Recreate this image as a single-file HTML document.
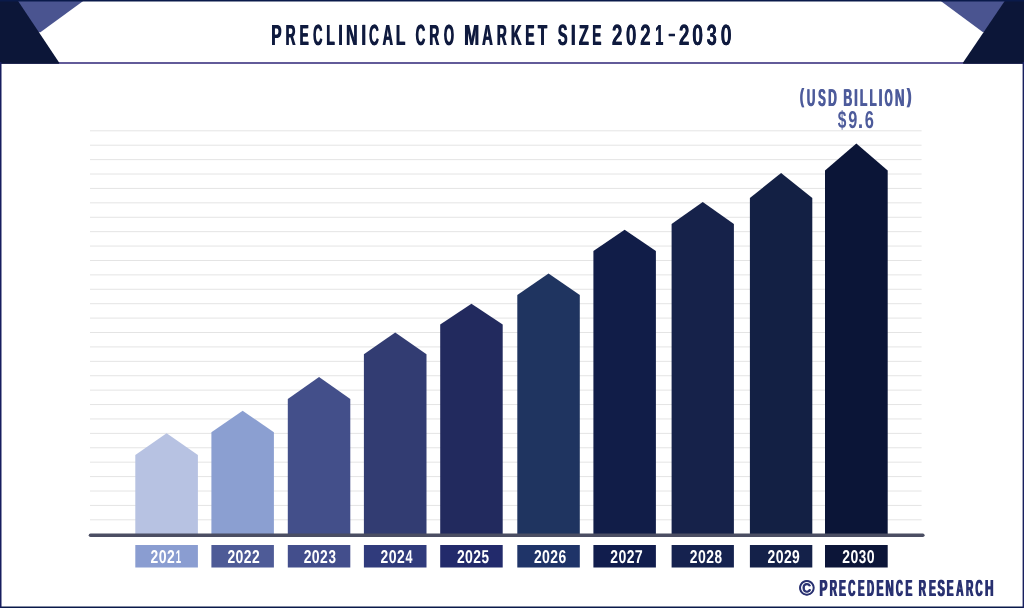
<!DOCTYPE html>
<html><head><meta charset="utf-8"><style>
html,body{margin:0;padding:0;background:#fff;}
body{width:1024px;height:608px;overflow:hidden;position:relative;}
svg{position:absolute;left:0;top:0;will-change:transform;}
text{font-family:"Liberation Sans",sans-serif;font-weight:bold;text-rendering:geometricPrecision;}
</style></head><body>
<svg width="1024" height="608" viewBox="0 0 1024 608">
<rect x="0" y="0" width="1024" height="608" fill="#fff"/>
<rect x="0" y="62.2" width="1024" height="1.6" fill="#3c3481"/>
<polygon points="10,0 84.6,0 40.4,32.3 30,32.3" fill="#4a5490"/>
<polygon points="0,0 17.4,0 59.1,62.6 59.1,63.8 0,63.8" fill="#0c1638"/>
<polygon points="1014,0 939.4,0 982.7,32 995,32" fill="#4a5490"/>
<polygon points="1024,0 1005.4,0 963.1,62.6 963.1,63.8 1024,63.8" fill="#0c1638"/>
<rect x="0" y="0" width="1024" height="1.5" fill="#0a1a4a"/>
<rect x="0" y="606.5" width="1024" height="1.5" fill="#0a1a4a"/>
<rect x="0" y="62" width="1.5" height="546" fill="#171d5f"/>
<rect x="1022.6" y="62" width="1.4" height="546" fill="#18205f"/>
<text id="g11" style="font-size:29.22px" fill="#0f1a3e"><tspan x="271.08" y="44.90" textLength="10.136" lengthAdjust="spacingAndGlyphs">P</tspan><tspan x="285.18" y="44.90" textLength="9.898" lengthAdjust="spacingAndGlyphs">R</tspan><tspan x="299.28" y="44.90" textLength="9.154" lengthAdjust="spacingAndGlyphs">E</tspan><tspan x="312.77" y="44.90" textLength="9.278" lengthAdjust="spacingAndGlyphs">C</tspan><tspan x="326.07" y="44.90" textLength="8.451" lengthAdjust="spacingAndGlyphs">L</tspan><tspan x="337.89" y="44.90" textLength="4.629" lengthAdjust="spacingAndGlyphs">I</tspan><tspan x="345.74" y="44.90" textLength="11.424" lengthAdjust="spacingAndGlyphs">N</tspan><tspan x="360.96" y="44.90" textLength="4.726" lengthAdjust="spacingAndGlyphs">I</tspan><tspan x="368.64" y="44.90" textLength="9.941" lengthAdjust="spacingAndGlyphs">C</tspan><tspan x="382.24" y="44.90" textLength="10.334" lengthAdjust="spacingAndGlyphs">A</tspan><tspan x="395.60" y="44.90" textLength="9.165" lengthAdjust="spacingAndGlyphs">L</tspan> <tspan x="415.35" y="44.90" textLength="9.610" lengthAdjust="spacingAndGlyphs">C</tspan><tspan x="429.08" y="44.90" textLength="9.898" lengthAdjust="spacingAndGlyphs">R</tspan><tspan x="443.47" y="44.90" textLength="10.131" lengthAdjust="spacingAndGlyphs">O</tspan> <tspan x="463.78" y="44.90" textLength="15.130" lengthAdjust="spacingAndGlyphs">M</tspan><tspan x="481.83" y="44.90" textLength="10.657" lengthAdjust="spacingAndGlyphs">A</tspan><tspan x="496.58" y="44.90" textLength="9.898" lengthAdjust="spacingAndGlyphs">R</tspan><tspan x="510.61" y="44.90" textLength="10.732" lengthAdjust="spacingAndGlyphs">K</tspan><tspan x="525.08" y="44.90" textLength="9.154" lengthAdjust="spacingAndGlyphs">E</tspan><tspan x="537.43" y="44.90" textLength="9.284" lengthAdjust="spacingAndGlyphs">T</tspan> <tspan x="557.48" y="44.90" textLength="9.630" lengthAdjust="spacingAndGlyphs">S</tspan><tspan x="570.54" y="44.90" textLength="4.822" lengthAdjust="spacingAndGlyphs">I</tspan><tspan x="578.51" y="44.90" textLength="10.010" lengthAdjust="spacingAndGlyphs">Z</tspan><tspan x="591.88" y="44.90" textLength="9.214" lengthAdjust="spacingAndGlyphs">E</tspan> </text>
<use href="#g11" x="0.7"/>
<text id="g12" style="font-size:29.22px" fill="#0f1a3e"><tspan x="611.84" y="44.90" textLength="10.570" lengthAdjust="spacingAndGlyphs">2</tspan><tspan x="625.85" y="44.90" textLength="10.583" lengthAdjust="spacingAndGlyphs">0</tspan><tspan x="639.94" y="44.90" textLength="10.570" lengthAdjust="spacingAndGlyphs">2</tspan><tspan x="654.96" y="44.90" textLength="8.306" lengthAdjust="spacingAndGlyphs">1</tspan><tspan x="667.67" y="40.46" style="font-size:19.30px" textLength="7.935" lengthAdjust="spacingAndGlyphs">-</tspan><tspan x="678.64" y="44.90" textLength="10.570" lengthAdjust="spacingAndGlyphs">2</tspan><tspan x="691.97" y="44.90" textLength="10.992" lengthAdjust="spacingAndGlyphs">0</tspan><tspan x="706.38" y="44.90" textLength="10.238" lengthAdjust="spacingAndGlyphs">3</tspan><tspan x="720.41" y="44.90" textLength="11.051" lengthAdjust="spacingAndGlyphs">0</tspan></text>
<use href="#g12" x="0.25"/>
<g stroke="#e4e4e4" stroke-width="1"><line x1="90" y1="130.80" x2="921.6" y2="130.80"/><line x1="90" y1="145.21" x2="921.6" y2="145.21"/><line x1="90" y1="159.62" x2="921.6" y2="159.62"/><line x1="90" y1="174.02" x2="921.6" y2="174.02"/><line x1="90" y1="188.43" x2="921.6" y2="188.43"/><line x1="90" y1="202.84" x2="921.6" y2="202.84"/><line x1="90" y1="217.25" x2="921.6" y2="217.25"/><line x1="90" y1="231.66" x2="921.6" y2="231.66"/><line x1="90" y1="246.06" x2="921.6" y2="246.06"/><line x1="90" y1="260.47" x2="921.6" y2="260.47"/><line x1="90" y1="274.88" x2="921.6" y2="274.88"/><line x1="90" y1="289.29" x2="921.6" y2="289.29"/><line x1="90" y1="303.70" x2="921.6" y2="303.70"/><line x1="90" y1="318.10" x2="921.6" y2="318.10"/><line x1="90" y1="332.51" x2="921.6" y2="332.51"/><line x1="90" y1="346.92" x2="921.6" y2="346.92"/><line x1="90" y1="361.33" x2="921.6" y2="361.33"/><line x1="90" y1="375.74" x2="921.6" y2="375.74"/><line x1="90" y1="390.14" x2="921.6" y2="390.14"/><line x1="90" y1="404.55" x2="921.6" y2="404.55"/><line x1="90" y1="418.96" x2="921.6" y2="418.96"/><line x1="90" y1="433.37" x2="921.6" y2="433.37"/><line x1="90" y1="447.78" x2="921.6" y2="447.78"/><line x1="90" y1="462.18" x2="921.6" y2="462.18"/><line x1="90" y1="476.59" x2="921.6" y2="476.59"/><line x1="90" y1="491.00" x2="921.6" y2="491.00"/><line x1="90" y1="505.41" x2="921.6" y2="505.41"/><line x1="90" y1="519.82" x2="921.6" y2="519.82"/></g>
<polygon points="135.3,534 135.3,455.1 166.60,433.2 197.9,455.1 197.9,534" fill="#b7c2e2"/><polygon points="211.4,534 211.4,432.3 242.65,410.7 273.9,432.3 273.9,534" fill="#8b9fd1"/><polygon points="287.8,534 287.8,398.9 319.05,377.0 350.3,398.9 350.3,534" fill="#434f8a"/><polygon points="363.9,534 363.9,354.3 395.20,332.4 426.5,354.3 426.5,534" fill="#323c72"/><polygon points="440.2,534 440.2,324.5 471.45,303.8 502.7,324.5 502.7,534" fill="#222a5e"/><polygon points="517.3,534 517.3,294.9 548.55,273.4 579.8,294.9 579.8,534" fill="#1f3460"/><polygon points="593.4,534 593.4,250.9 624.65,229.8 655.9,250.9 655.9,534" fill="#111d48"/><polygon points="671.6,534 671.6,224.1 702.75,201.9 733.9,224.1 733.9,534" fill="#16224a"/><polygon points="749.9,534 749.9,198.0 781.10,173.0 812.3,198.0 812.3,534" fill="#132044"/><polygon points="825.0,534 825.0,170.4 856.35,143.6 887.7,170.4 887.7,534" fill="#0b1537"/>
<line x1="90.5" y1="535.2" x2="922.8" y2="535.2" stroke="#4b4e63" stroke-width="3.6" stroke-linecap="round"/>
<rect x="135.3" y="545.0" width="62.60" height="22.5" fill="#8a9dd1"/>
<text id="g1" style="font-size:18.60px" fill="#ffffff"><tspan x="150.62" y="563.10" textLength="7.740" lengthAdjust="spacingAndGlyphs">2</tspan><tspan x="158.74" y="563.10" textLength="7.835" lengthAdjust="spacingAndGlyphs">0</tspan><tspan x="167.02" y="563.10" textLength="7.740" lengthAdjust="spacingAndGlyphs">2</tspan><tspan x="175.84" y="563.10" textLength="5.378" lengthAdjust="spacingAndGlyphs">1</tspan></text>
<rect x="211.4" y="545.0" width="62.50" height="22.5" fill="#4e5b97"/>
<text id="g2" style="font-size:18.60px" fill="#ffffff"><tspan x="227.42" y="563.10" textLength="7.740" lengthAdjust="spacingAndGlyphs">2</tspan><tspan x="235.54" y="563.10" textLength="7.835" lengthAdjust="spacingAndGlyphs">0</tspan><tspan x="243.82" y="563.10" textLength="7.740" lengthAdjust="spacingAndGlyphs">2</tspan><tspan x="252.02" y="563.10" textLength="7.740" lengthAdjust="spacingAndGlyphs">2</tspan></text>
<rect x="287.8" y="545.0" width="62.50" height="22.5" fill="#434e8c"/>
<text id="g3" style="font-size:18.60px" fill="#ffffff"><tspan x="303.72" y="563.10" textLength="7.740" lengthAdjust="spacingAndGlyphs">2</tspan><tspan x="311.84" y="563.10" textLength="7.835" lengthAdjust="spacingAndGlyphs">0</tspan><tspan x="320.12" y="563.10" textLength="7.740" lengthAdjust="spacingAndGlyphs">2</tspan><tspan x="328.49" y="563.10" textLength="7.496" lengthAdjust="spacingAndGlyphs">3</tspan></text>
<rect x="363.9" y="545.0" width="62.60" height="22.5" fill="#303b7c"/>
<text id="g4" style="font-size:18.60px" fill="#ffffff"><tspan x="380.62" y="563.10" textLength="7.740" lengthAdjust="spacingAndGlyphs">2</tspan><tspan x="388.74" y="563.10" textLength="7.835" lengthAdjust="spacingAndGlyphs">0</tspan><tspan x="397.02" y="563.10" textLength="7.740" lengthAdjust="spacingAndGlyphs">2</tspan><tspan x="405.51" y="563.10" textLength="6.957" lengthAdjust="spacingAndGlyphs">4</tspan></text>
<rect x="440.2" y="545.0" width="62.50" height="22.5" fill="#222a6b"/>
<text id="g5" style="font-size:18.60px" fill="#ffffff"><tspan x="456.92" y="563.10" textLength="7.740" lengthAdjust="spacingAndGlyphs">2</tspan><tspan x="465.04" y="563.10" textLength="7.835" lengthAdjust="spacingAndGlyphs">0</tspan><tspan x="473.32" y="563.10" textLength="7.740" lengthAdjust="spacingAndGlyphs">2</tspan><tspan x="481.59" y="563.10" textLength="7.489" lengthAdjust="spacingAndGlyphs">5</tspan></text>
<rect x="517.3" y="545.0" width="62.50" height="22.5" fill="#1f3468"/>
<text id="g6" style="font-size:18.60px" fill="#ffffff"><tspan x="533.92" y="563.10" textLength="7.740" lengthAdjust="spacingAndGlyphs">2</tspan><tspan x="542.04" y="563.10" textLength="7.835" lengthAdjust="spacingAndGlyphs">0</tspan><tspan x="550.32" y="563.10" textLength="7.740" lengthAdjust="spacingAndGlyphs">2</tspan><tspan x="558.49" y="563.10" textLength="7.708" lengthAdjust="spacingAndGlyphs">6</tspan></text>
<rect x="593.4" y="545.0" width="62.50" height="22.5" fill="#111d4d"/>
<text id="g7" style="font-size:18.60px" fill="#ffffff"><tspan x="610.27" y="563.10" textLength="7.740" lengthAdjust="spacingAndGlyphs">2</tspan><tspan x="618.39" y="563.10" textLength="7.835" lengthAdjust="spacingAndGlyphs">0</tspan><tspan x="626.67" y="563.10" textLength="7.740" lengthAdjust="spacingAndGlyphs">2</tspan><tspan x="634.74" y="563.10" textLength="7.941" lengthAdjust="spacingAndGlyphs">7</tspan></text>
<rect x="671.6" y="545.0" width="62.30" height="22.5" fill="#15224f"/>
<text id="g8" style="font-size:18.60px" fill="#ffffff"><tspan x="689.82" y="563.10" textLength="7.740" lengthAdjust="spacingAndGlyphs">2</tspan><tspan x="697.94" y="563.10" textLength="7.835" lengthAdjust="spacingAndGlyphs">0</tspan><tspan x="706.22" y="563.10" textLength="7.740" lengthAdjust="spacingAndGlyphs">2</tspan><tspan x="714.47" y="563.10" textLength="7.548" lengthAdjust="spacingAndGlyphs">8</tspan></text>
<rect x="749.9" y="545.0" width="62.40" height="22.5" fill="#142149"/>
<text id="g9" style="font-size:18.60px" fill="#ffffff"><tspan x="767.52" y="563.10" textLength="7.740" lengthAdjust="spacingAndGlyphs">2</tspan><tspan x="775.64" y="563.10" textLength="7.835" lengthAdjust="spacingAndGlyphs">0</tspan><tspan x="783.92" y="563.10" textLength="7.740" lengthAdjust="spacingAndGlyphs">2</tspan><tspan x="792.12" y="563.10" textLength="7.693" lengthAdjust="spacingAndGlyphs">9</tspan></text>
<rect x="825.0" y="545.0" width="62.70" height="22.5" fill="#0c1538"/>
<text id="g10" style="font-size:18.60px" fill="#ffffff"><tspan x="842.27" y="563.10" textLength="7.740" lengthAdjust="spacingAndGlyphs">2</tspan><tspan x="850.39" y="563.10" textLength="7.835" lengthAdjust="spacingAndGlyphs">0</tspan><tspan x="858.84" y="563.10" textLength="7.496" lengthAdjust="spacingAndGlyphs">3</tspan><tspan x="866.79" y="563.10" textLength="7.835" lengthAdjust="spacingAndGlyphs">0</tspan></text>
<text id="g14" style="font-size:24.42px" fill="#4d5b9b"><tspan x="799.48" y="102.79" style="font-size:20.76px" textLength="4.130" lengthAdjust="spacingAndGlyphs">(</tspan><tspan x="806.40" y="105.70" textLength="8.410" lengthAdjust="spacingAndGlyphs">U</tspan><tspan x="817.67" y="105.70" textLength="7.682" lengthAdjust="spacingAndGlyphs">S</tspan><tspan x="827.79" y="105.70" textLength="8.714" lengthAdjust="spacingAndGlyphs">D</tspan> <tspan x="842.98" y="105.70" textLength="8.881" lengthAdjust="spacingAndGlyphs">B</tspan><tspan x="853.82" y="105.70" textLength="3.665" lengthAdjust="spacingAndGlyphs">I</tspan><tspan x="859.44" y="105.70" textLength="7.439" lengthAdjust="spacingAndGlyphs">L</tspan><tspan x="869.13" y="105.70" textLength="7.023" lengthAdjust="spacingAndGlyphs">L</tspan><tspan x="878.17" y="105.70" textLength="3.858" lengthAdjust="spacingAndGlyphs">I</tspan><tspan x="884.28" y="105.70" textLength="8.004" lengthAdjust="spacingAndGlyphs">O</tspan><tspan x="894.51" y="105.70" textLength="9.582" lengthAdjust="spacingAndGlyphs">N</tspan><tspan x="906.59" y="102.79" style="font-size:20.76px" textLength="4.366" lengthAdjust="spacingAndGlyphs">)</tspan></text>
<use href="#g14" x="0.8"/>
<text id="g15" style="font-size:24.43px" fill="#4d5b9b"><tspan x="837.70" y="128.30" textLength="8.624" lengthAdjust="spacingAndGlyphs">$</tspan><tspan x="848.33" y="128.30" textLength="9.071" lengthAdjust="spacingAndGlyphs">9</tspan><tspan x="857.85" y="128.30" textLength="5.513" lengthAdjust="spacingAndGlyphs">.</tspan><tspan x="864.70" y="128.30" textLength="9.147" lengthAdjust="spacingAndGlyphs">6</tspan></text>
<text id="g13" style="font-size:23.26px" fill="#283070"><tspan x="819.01" y="596.00" textLength="7.897" lengthAdjust="spacingAndGlyphs">P</tspan><tspan x="829.13" y="596.00" textLength="7.281" lengthAdjust="spacingAndGlyphs">R</tspan><tspan x="838.61" y="596.00" textLength="6.895" lengthAdjust="spacingAndGlyphs">E</tspan><tspan x="847.70" y="596.00" textLength="7.069" lengthAdjust="spacingAndGlyphs">C</tspan><tspan x="857.44" y="596.00" textLength="6.539" lengthAdjust="spacingAndGlyphs">E</tspan><tspan x="866.45" y="596.00" textLength="7.065" lengthAdjust="spacingAndGlyphs">D</tspan><tspan x="876.10" y="596.00" textLength="7.014" lengthAdjust="spacingAndGlyphs">E</tspan><tspan x="885.04" y="596.00" textLength="8.230" lengthAdjust="spacingAndGlyphs">N</tspan><tspan x="895.61" y="596.00" textLength="6.848" lengthAdjust="spacingAndGlyphs">C</tspan><tspan x="905.02" y="596.00" textLength="6.777" lengthAdjust="spacingAndGlyphs">E</tspan> <tspan x="918.23" y="596.00" textLength="7.281" lengthAdjust="spacingAndGlyphs">R</tspan><tspan x="928.41" y="596.00" textLength="6.895" lengthAdjust="spacingAndGlyphs">E</tspan><tspan x="936.88" y="596.00" textLength="7.348" lengthAdjust="spacingAndGlyphs">S</tspan><tspan x="946.22" y="596.00" textLength="6.777" lengthAdjust="spacingAndGlyphs">E</tspan><tspan x="955.85" y="596.00" textLength="7.212" lengthAdjust="spacingAndGlyphs">A</tspan><tspan x="965.53" y="596.00" textLength="7.281" lengthAdjust="spacingAndGlyphs">R</tspan><tspan x="975.10" y="596.00" textLength="7.069" lengthAdjust="spacingAndGlyphs">C</tspan><tspan x="984.61" y="596.00" textLength="8.476" lengthAdjust="spacingAndGlyphs">H</tspan></text>
<use href="#g13" x="1.0"/>
<text x="799.19" y="595.34" style="font-size:20.68px;font-weight:normal" fill="#283070" stroke="#283070" stroke-width="1.0">&#169;</text>
</svg>
</body></html>
